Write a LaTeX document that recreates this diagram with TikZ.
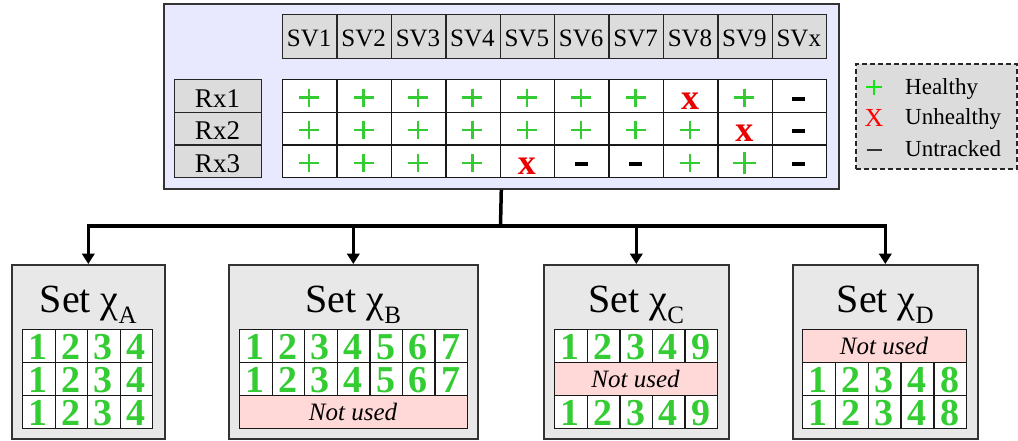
\documentclass[tikz,border=0pt]{standalone}
\usepackage{fontspec}
\setmainfont{Liberation Serif}[BoldFont={Liberation Serif Bold},ItalicFont={Liberation Serif Italic},BoldItalicFont={Liberation Serif Bold Italic}]
\usetikzlibrary{arrows.meta}
\definecolor{lav}{RGB}{232,232,255}
\definecolor{hdr}{RGB}{220,220,220}
\definecolor{setbg}{RGB}{232,232,232}
\definecolor{okg}{RGB}{51,204,51}
\definecolor{legg}{RGB}{20,230,20}
\definecolor{bad}{RGB}{235,0,0}
\definecolor{pinkc}{RGB}{255,216,216}
\newcommand\pxfont[1]{\fontsize{#1}{#1}\selectfont}
\tikzset{
  frame/.style={draw=black!80, line width=1.6pt, inner sep=0pt},
  hcell/.style={draw=black!85, fill=hdr, line width=1.3pt, inner sep=0pt},
  dcell/.style={draw=black!90, fill=white, line width=1.3pt, inner sep=0pt, minimum height=33pt},
  nucell/.style={draw=black!90, fill=pinkc, line width=1.3pt, inner sep=0pt, minimum height=33pt},
  digit/.style={text=okg, font=\rmfamily\pxfont{38}\bfseries, inner sep=0pt},
  nutext/.style={font=\rmfamily\pxfont{25}\itshape, inner sep=0pt},
  plussym/.style={draw=okg, line width=2.3pt},
  conn/.style={line width=3.5pt, line join=miter},
  arr/.style={conn, -{Triangle[length=10.5pt,width=12.5pt]}},
}
\newcommand\digrow[5]{%
  \foreach \d [count=\c] in {#4} {
    \node[dcell, minimum width=#2pt, anchor=north west] (#5-\c) at ({#1+(\c-1)*#2},#3) {};
    \node[digit, anchor=base] (#5-\c-t) at ({#1+(\c-0.5)*#2},{#3+30}) {\d};
  }}
\newcommand\nurow[4]{%
  \node[nucell, minimum width=#2pt, anchor=north west] (#4) at (#1,#3) {};
  \node[nutext, anchor=base] (#4-t) at ({#1+#2/2},{#3+25}) {Not used};}
\begin{document}
\begin{tikzpicture}[x=1pt,y=-1pt,font=\rmfamily]
\useasboundingbox (0,0) rectangle (1018,440);
% top panel
\node[frame, fill=lav, minimum width=675pt, minimum height=185pt, anchor=north west] (top) at (163,3) {};
% header
\foreach \lab [count=\i] in {SV1,SV2,SV3,SV4,SV5,SV6,SV7,SV8,SV9,SVx} {
  \node[hcell, minimum width=54.4pt, minimum height=44pt, anchor=north west] (h\i) at ({282+(\i-1)*54.4},14) {};
  \node[anchor=base, font=\rmfamily\pxfont{25}, inner sep=0pt] (h\i-t) at ({282+(\i-0.5)*54.4},46.5) {\lab};
}
% receivers
\foreach \i in {1,2,3} {
  \node[hcell, minimum width=87pt, minimum height=32.7pt, anchor=north west] (rx\i) at (174,{79+(\i-1)*32.7}) {};
  \node[anchor=base, font=\rmfamily\pxfont{27}, inner sep=0pt] (rx\i-t) at (217.5,{79+(\i-1)*32.7+28}) {Rx\i};
}
% status grid
\foreach \r/\row in {1/{p,p,p,p,p,p,p,x,p,d},2/{p,p,p,p,p,p,p,p,x,d},3/{p,p,p,p,x,d,d,p,q,d}} {
  \foreach \s [count=\c] in \row {
    \pgfmathsetmacro\cx{282+(\c-0.5)*54.4}
    \pgfmathsetmacro\ry{79+(\r-1)*32.7}
    \node[dcell, minimum width=54.4pt, minimum height=32.7pt, anchor=north west] (g\r-\c) at ({282+(\c-1)*54.4},\ry) {};
    \if p\s
      \draw[plussym] ({\cx-10},{\ry+18.5}) -- ({\cx+10},{\ry+18.5}) ({\cx},{\ry+9.5}) -- ({\cx},{\ry+27.5});
    \fi
    \if q\s
      \draw[plussym, line width=2.6pt] ({\cx-11.5},{\ry+18.5}) -- ({\cx+11.5},{\ry+18.5}) ({\cx},{\ry+7.5}) -- ({\cx},{\ry+29.5});
    \fi
    \if x\s
      \node[anchor=base, text=bad, font=\rmfamily\pxfont{36}\bfseries, inner sep=0pt] (g\r-\c-t) at (\cx,{\ry+30}) {x};
    \fi
    \if d\s
      \fill ({\cx-6.5},{\ry+17.5}) rectangle ({\cx+6.5},{\ry+21.5});
    \fi
  }
}
% legend
\node[draw=black!85, fill=hdr, dashed, dash pattern=on 5pt off 3pt, line width=1.5pt, minimum width=161pt, minimum height=105pt, anchor=north west, inner sep=0pt] (legend) at (855,63) {};
\draw[draw=legg, line width=2.5pt] (866,87) -- (882,87) (874,79.5) -- (874,94.5);
\node[anchor=base, text=red, font=\rmfamily\pxfont{26}, inner sep=0pt] (legX) at (874,126) {X};
\draw[line width=1.6pt, black!80] (866.5,150) -- (881.5,150);
\node[anchor=base west, font=\rmfamily\pxfont{23}, inner sep=0pt] (legH) at (905,94) {Healthy};
\node[anchor=base west, font=\rmfamily\pxfont{23}, inner sep=0pt] (legU) at (905,124.5) {Unhealthy};
\node[anchor=base west, font=\rmfamily\pxfont{23}, inner sep=0pt] (legT) at (905,156) {Untracked};
% set boxes
\node[frame, fill=setbg, minimum width=153pt, minimum height=174pt, anchor=north west] (setA) at (11,264) {};
\node[frame, fill=setbg, minimum width=249pt, minimum height=174pt, anchor=north west] (setB) at (228,264) {};
\node[frame, fill=setbg, minimum width=185pt, minimum height=174pt, anchor=north west] (setC) at (543,264) {};
\node[frame, fill=setbg, minimum width=185pt, minimum height=174pt, anchor=north west] (setD) at (792,264) {};
\foreach \n/\L in {A/A,B/B,C/C,D/D} {
  \path (set\n.north) ++(0,48) node[anchor=base, font=\rmfamily\pxfont{40}, inner sep=0pt] (title\n) {Set χ\raisebox{-11pt}{\pxfont{25}\L}};
}
% tables
\digrow{22}{32.5}{329}{1,2,3,4}{a1}
\digrow{22}{32.5}{362}{1,2,3,4}{a2}
\digrow{22}{32.5}{395}{1,2,3,4}{a3}
\digrow{239}{32.57}{329}{1,2,3,4,5,6,7}{b1}
\digrow{239}{32.57}{362}{1,2,3,4,5,6,7}{b2}
\nurow{239}{228}{395}{b3}
\digrow{554}{32.6}{329}{1,2,3,4,9}{c1}
\nurow{554}{163}{362}{c2}
\digrow{554}{32.6}{395}{1,2,3,4,9}{c3}
\nurow{802}{164}{329}{d1}
\digrow{802}{32.8}{362}{1,2,3,4,8}{d2}
\digrow{802}{32.8}{395}{1,2,3,4,8}{d3}
% connectors
\coordinate (j) at (500.5,226);
\draw[conn] (top.south) -- (j);
\draw[arr] (j) -| (setA.north);
\draw[arr] (j) -| (setB.north);
\draw[arr] (j) -| (setC.north);
\draw[arr] (j) -| (setD.north);
\end{tikzpicture}
\end{document}
